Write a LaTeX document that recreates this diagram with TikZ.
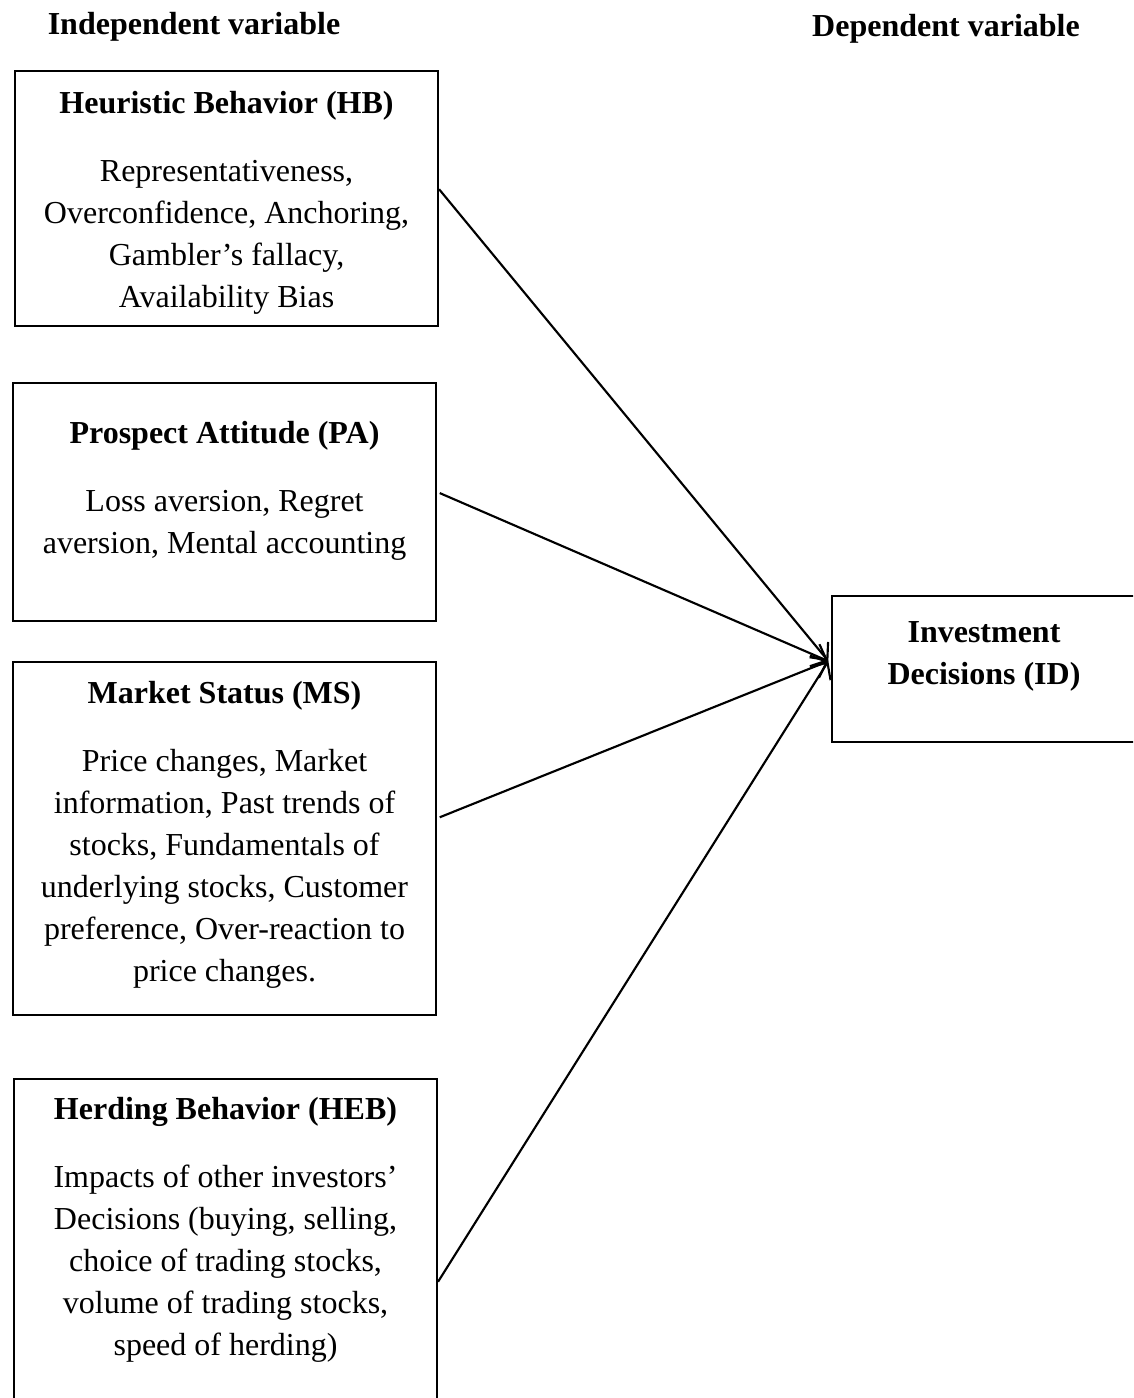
\documentclass[tikz,border=0pt]{standalone}
\usepackage{fontspec}
\setmainfont{Liberation Serif}
\usepackage{tikz}
\usetikzlibrary{arrows.meta,positioning}

\tikzset{
	varbox/.style = {draw, line width = 0.8pt, anchor = north west, inner sep = 0pt},
	vartext/.style = {align = center, anchor = north, inner sep = 0pt, font = \fontsize{12pt}{15.75pt}\selectfont},
	headtext/.style = {font = \fontsize{12pt}{15.75pt}\selectfont\bfseries},
	link/.style = {line width = 0.8pt, -{Straight Barb[length=5pt, width=9pt]}}
}

\begin{document}
\begin{tikzpicture}[x = 0.375pt, y = -0.375pt]
\useasboundingbox (0,0) rectangle (1133,1398);
\clip (0,0) rectangle (1133,1398);

% headings
\node[headtext] (indep) at (194,27) {Independent variable};
\node[headtext] (dep) at (946,29) {Dependent variable};

% independent variables
\node[varbox, minimum width = 158.6pt, minimum height = 95.6pt] (hb) at (14,70) {};
\node[vartext] (hbtext) at ([yshift=-7.7pt]hb.north) {\textbf{Heuristic Behavior (HB)}\\[9.75pt]
	Representativeness,\\ Overconfidence, Anchoring,\\ Gambler’s fallacy,\\ Availability Bias};

\node[varbox, minimum width = 158.6pt, minimum height = 89.3pt] (pa) at (12,382) {};
\node[vartext] (patext) at ([yshift=-14.4pt]pa.north) {\textbf{Prospect Attitude (PA)}\\[9.75pt]
	Loss aversion, Regret\\ aversion, Mental accounting};

\node[varbox, minimum width = 158.6pt, minimum height = 132.4pt] (ms) at (12,661) {};
\node[vartext] (mstext) at ([yshift=-7.3pt]ms.north) {\textbf{Market Status (MS)}\\[9.75pt]
	Price changes, Market\\ information, Past trends of\\ stocks, Fundamentals of\\
	underlying stocks, Customer\\ preference, Over-reaction to\\ price changes.};

\node[varbox, minimum width = 158.6pt, minimum height = 128pt] (heb) at (13,1078) {};
\node[vartext] (hebtext) at ([yshift=-6.9pt]heb.north) {\textbf{Herding Behavior (HEB)}\\[9.75pt]
	Impacts of other investors’\\ Decisions (buying, selling,\\ choice of trading stocks,\\
	volume of trading stocks,\\ speed of herding)};

% dependent variable
\node[varbox, minimum width = 114.8pt, minimum height = 54.8pt] (id) at (831,595) {};
\node[vartext, anchor = center] (idtext) at (984,656) {\textbf{Investment}\\ \textbf{Decisions (ID)}};

% links
\coordinate (tip) at ([xshift=-1pt, yshift=3pt]id.west);
\draw[link] ([yshift=3.5pt]hb.east) -- (tip);
\draw[link] ([xshift=1pt, yshift=3.4pt]pa.east) -- (tip);
\draw[link] ([xshift=1pt, yshift=8pt]ms.east) -- (tip);
\draw[link] ([yshift=-12pt]heb.east) -- (tip);
\end{tikzpicture}
\end{document}
